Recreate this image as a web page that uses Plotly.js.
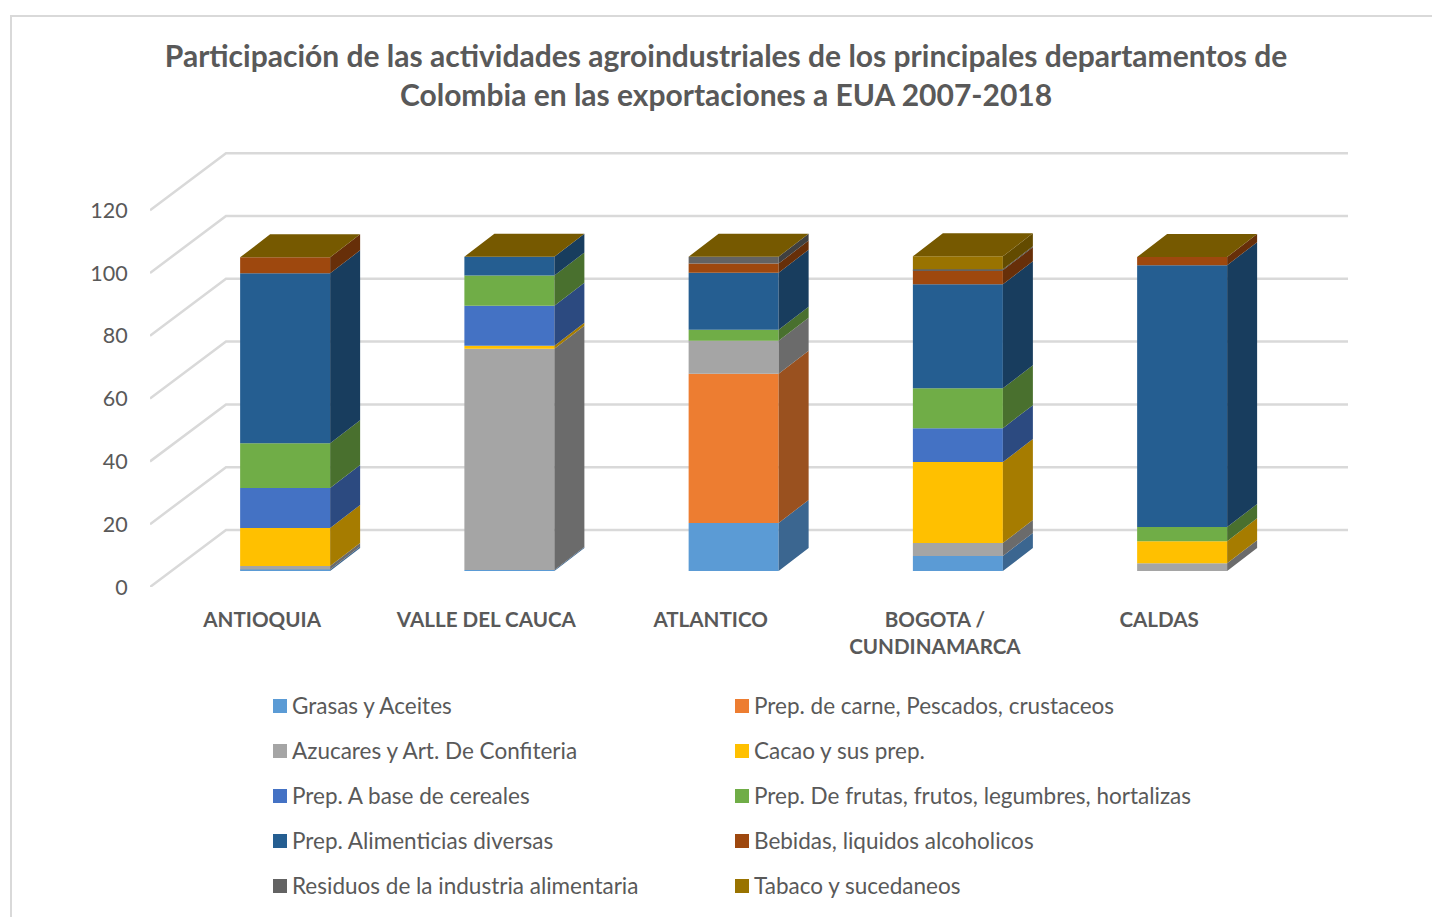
<!DOCTYPE html>
<html lang="es">
<head>
    <meta charset="UTF-8">
    <title>Participación de las actividades agroindustriales</title>
    <script src="https://cdn.plot.ly/plotly-3.0.1.min.js"></script>
    <style>
        body { margin: 0; background: #fff; overflow: hidden; }
        #frame { position: absolute; left: 10px; top: 15px; width: 1600px; height: 1100px; border: 2px solid #d9d9d9; }
        #chart { position: absolute; left: 0; top: 0; width: 1432px; height: 917px; }
    </style>
</head>
<body>
    <div id="frame"></div>
    <div id="chart"></div>
    <script>
        const departamentos = ['ANTIOQUIA', 'VALLE DEL CAUCA', 'ATLANTICO', 'BOGOTA /<br>CUNDINAMARCA', 'CALDAS'];

        const grasas    = [0.5, 0.3, 15.3, 4.8, 0];
        const carne     = [0, 0, 47.5, 0, 0];
        const azucares  = [1.1, 70.5, 10.5, 4.1, 2.5];
        const cacao     = [12.1, 0.9, 0, 25.8, 7.0];
        const cereales  = [12.7, 12.8, 0, 10.8, 0];
        const frutas    = [14.3, 9.6, 3.5, 12.7, 4.5];
        const diversas  = [54.1, 6.0, 18.2, 33.1, 83.4];
        const bebidas   = [5.1, 0, 2.9, 4.5, 2.6];
        const residuos  = [0, 0, 2.2, 0.3, 0];
        const tabaco    = [0, 0, 0, 4.1, 0];

        const series = [
            { name: 'Grasas y Aceites', values: grasas, front: '#5b9bd5', side: '#3b6690' },
            { name: 'Prep. de carne, Pescados, crustaceos', values: carne, front: '#ed7d31', side: '#9a511f' },
            { name: 'Azucares y Art. De Confiteria', values: azucares, front: '#a5a5a5', side: '#6b6b6b' },
            { name: 'Cacao y sus prep.', values: cacao, front: '#ffc000', side: '#a67c00' },
            { name: 'Prep. A base de cereales', values: cereales, front: '#4472c4', side: '#2c4a80' },
            { name: 'Prep. De frutas, frutos, legumbres, hortalizas', values: frutas, front: '#70ad47', side: '#49702e' },
            { name: 'Prep. Alimenticias diversas', values: diversas, front: '#255e91', side: '#183d5e' },
            { name: 'Bebidas, liquidos alcoholicos', values: bebidas, front: '#9e480e', side: '#672f09' },
            { name: 'Residuos de la industria alimentaria', values: residuos, front: '#636363', side: '#404040' },
            { name: 'Tabaco y sucedaneos', values: tabaco, front: '#997300', side: '#634b00' }
        ];
        const topColor = '#765900';
        const yTicks = [0, 20, 40, 60, 80, 100, 120];

        // plot box in page pixels, everything else hangs off these
        const plotLeft = 150, plotRight = 1348, plotTop = 148, plotBottom = 587;
        const pxPerCat = 224.25, pxPerUnit = 3.14;
        const xMax = (plotRight - plotLeft) / pxPerCat;
        const yMax = (plotBottom - plotTop) / pxPerUnit;

        // fake 3d: oblique offsets, converted to axis units
        const wallDx = 76 / pxPerCat, wallDy = 57 / pxPerUnit;
        const barDx = 23 / pxPerCat, barDy = 16 / pxPerUnit;
        const sideDx = 30 / pxPerCat, sideDy = 23 / pxPerUnit;
        const barWidth = 90 / pxPerCat;

        const barX = departamentos.map((_, i) => i + 0.5 + barDx);
        const cum = departamentos.map(() => barDy);
        const traces = [];

        series.forEach(s => {
            const bases = cum.slice();
            const sx = [], sy = [];
            s.values.forEach((v, i) => {
                if (v > 0) {
                    const r = barX[i] + barWidth / 2;
                    sx.push(r, r + sideDx, r + sideDx, r, r, null);
                    sy.push(bases[i], bases[i] + sideDy, bases[i] + v + sideDy, bases[i] + v, bases[i], null);
                }
                cum[i] += v;
            });
            traces.push({
                type: 'bar', name: s.name, x: barX, y: s.values, base: bases, width: barWidth,
                marker: { color: s.front, line: { width: 0 } }, showlegend: false
            });
            traces.push({
                type: 'scatter', mode: 'none', x: sx, y: sy, fill: 'toself', fillcolor: s.side,
                hoverinfo: 'skip', showlegend: false
            });
        });

        // top caps, they always come in the tabaco shade
        const capX = [], capY = [];
        barX.forEach((x, i) => {
            const l = x - barWidth / 2, r = x + barWidth / 2;
            capX.push(l, r, r + sideDx, l + sideDx, l, null);
            capY.push(cum[i], cum[i], cum[i] + sideDy, cum[i] + sideDy, cum[i], null);
        });
        traces.push({
            type: 'scatter', mode: 'none', x: capX, y: capY, fill: 'toself', fillcolor: topColor,
            hoverinfo: 'skip', showlegend: false
        });

        // walls: side diagonal plus back line for every tick
        const shapes = yTicks.map(v => ({
            type: 'path', layer: 'below', xref: 'x', yref: 'y',
            path: `M 0 ${v} L ${wallDx} ${v + wallDy} L ${xMax} ${v + wallDy}`,
            line: { color: '#d9d9d9', width: 2.5 }
        }));

        // legend is built by hand, plotly can't space rows this far apart
        const legendCols = [273, 735], legendRows = [706, 751, 796, 841, 886];
        const pageX = px => (px - plotLeft) / (plotRight - plotLeft);
        const pageY = py => (plotBottom - py) / (plotBottom - plotTop);
        const annotations = [];
        series.forEach((s, k) => {
            const col = legendCols[k % 2], row = legendRows[Math.floor(k / 2)];
            shapes.push({
                type: 'rect', xref: 'paper', yref: 'paper',
                x0: pageX(col), x1: pageX(col + 14), y0: pageY(row + 7), y1: pageY(row - 7),
                fillcolor: s.front, line: { width: 0 }
            });
            annotations.push({
                xref: 'paper', yref: 'paper', x: pageX(col + 17), y: pageY(row - 1),
                xanchor: 'left', yanchor: 'middle', showarrow: false, text: s.name,
                font: { family: 'Lato', size: 22.5, color: '#595959' }
            });
        });

        const layout = {
            title: {
                text: 'Participación de las actividades agroindustriales de los principales departamentos de<br>Colombia en las exportaciones a EUA 2007-2018',
                font: { family: 'Lato', size: 30, color: '#595959', weight: 700 },
                x: 726 / 1432, xanchor: 'center', y: 1 - 67 / 917, yanchor: 'middle'
            },
            width: 1432, height: 917,
            margin: { l: plotLeft, r: 1432 - plotRight, t: plotTop, b: 917 - plotBottom, pad: 0 },
            paper_bgcolor: 'rgba(0,0,0,0)', plot_bgcolor: 'rgba(0,0,0,0)',
            barmode: 'overlay', showlegend: false, shapes, annotations,
            xaxis: {
                range: [0, xMax], tickmode: 'array',
                tickvals: departamentos.map((_, i) => i + 0.5), ticktext: departamentos,
                tickangle: 0, showgrid: false, zeroline: false, showline: false,
                ticks: 'outside', ticklen: 14, tickcolor: 'rgba(0,0,0,0)',
                tickfont: { family: 'Lato', size: 20.6, color: '#595959', weight: 700 }
            },
            yaxis: {
                range: [0, yMax], tickmode: 'array', tickvals: yTicks,
                showgrid: false, zeroline: false, showline: false,
                ticks: 'outside', ticklen: 17, tickcolor: 'rgba(0,0,0,0)',
                tickfont: { family: 'Lato', size: 21.5, color: '#595959' }
            }
        };

        Plotly.newPlot('chart', traces, layout, { displayModeBar: false });
    </script>
</body>
</html>
